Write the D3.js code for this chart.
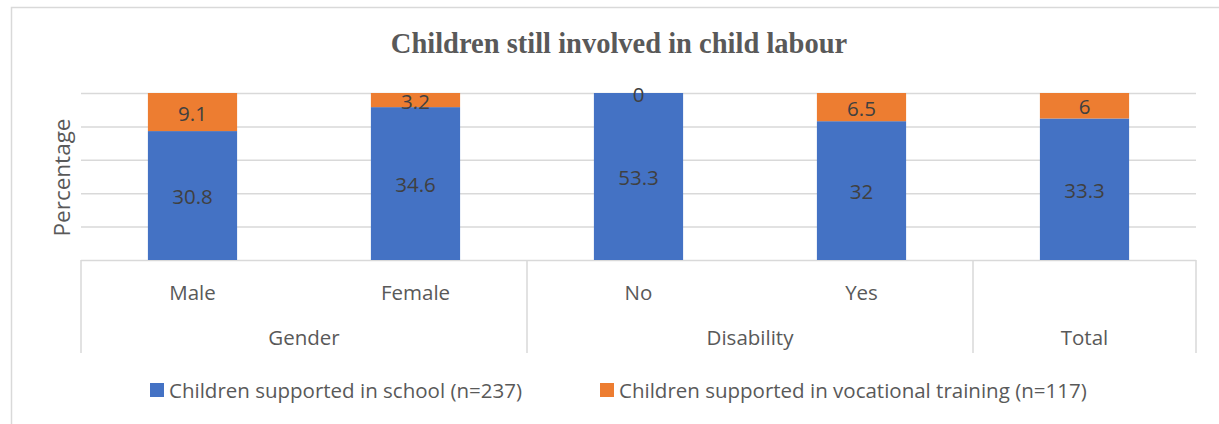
<!DOCTYPE html>
<html>
<head>
<meta charset="utf-8">
<script src="https://cdn.jsdelivr.net/npm/d3@7"></script>
<style>
  body { margin: 0; background: #fff; }
  text { font-family: "Open Sans", Lato, sans-serif; }
</style>
</head>
<body>
<div id="chart"></div>
<script>
const categories = ["Male", "Female", "No", "Yes", "Total"];
const groups = [
    { name: "Gender", members: ["Male", "Female"] },
    { name: "Disability", members: ["No", "Yes"] },
    { name: "Total", members: ["Total"] }
];
const seriesNames = ["Children supported in school (n=237)", "Children supported in vocational training (n=117)"];
const school = [30.8, 34.6, 53.3, 32, 33.3];
const vocational = [9.1, 3.2, 0, 6.5, 6];
const yTicks = [0, 0.2, 0.4, 0.6, 0.8, 1];

function drawChart(containerId) {
    const width = 1219,
        height = 424;
    const plot = { left: 81, right: 1196, top: 93, bottom: 260 };
    const colors = ["#4472C4", "#ED7D31"];
    const fontSize = "20.5px";

    d3.select(`#${containerId}`).selectAll("*").remove();

    const svg = d3.select(`#${containerId}`)
        .append("svg")
        .attr("width", width)
        .attr("height", height);

    // outer chart border
    svg.append("rect")
        .attr("x", 11.5).attr("y", 7.5)
        .attr("width", width).attr("height", height)
        .attr("fill", "none")
        .attr("stroke", "#d9d9d9")
        .attr("stroke-width", 1.5);

    svg.append("text")
        .attr("x", 619).attr("y", 53)
        .attr("text-anchor", "middle")
        .style("font-family", "'Liberation Serif', serif")
        .style("font-weight", "bold")
        .style("font-size", "28.5px")
        .attr("fill", "#595959")
        .text("Children still involved in child labour");

    const x = d3.scaleBand()
        .domain(categories)
        .range([plot.left, plot.right])
        .paddingInner(0.6)
        .paddingOuter(0.3);

    const y = d3.scaleLinear()
        .domain([0, 1])
        .range([plot.bottom, plot.top]);

    // gridlines
    svg.append("g")
        .attr("transform", `translate(${plot.left},0)`)
        .call(d3.axisLeft(y).tickValues(yTicks).tickSize(-(plot.right - plot.left)).tickFormat(""))
        .call(g => g.select(".domain").remove())
        .call(g => g.selectAll(".tick line").attr("stroke", "#d9d9d9").attr("stroke-width", 1.5));

    const rows = categories.map((c, i) => ({ cat: c, school: school[i], vocational: vocational[i] }));
    const stack = d3.stack()
        .keys(["school", "vocational"])
        .offset(d3.stackOffsetExpand);
    const series = stack(rows);

    const layer = svg.selectAll("g.series")
        .data(series)
        .join("g")
        .attr("class", "series")
        .attr("fill", (d, i) => colors[i]);

    layer.selectAll("rect")
        .data(d => d)
        .join("rect")
        .attr("x", d => x(d.data.cat))
        .attr("width", x.bandwidth())
        .attr("y", d => y(d[1]))
        .attr("height", d => y(d[0]) - y(d[1]));

    layer.selectAll("text")
        .data((d, i) => d.map(p => ({ p: p, key: series[i].key })))
        .join("text")
        .attr("x", d => x(d.p.data.cat) + x.bandwidth() / 2)
        .attr("y", d => y((d.p[0] + d.p[1]) / 2) + 1.5)
        .attr("dy", "0.35em")
        .attr("text-anchor", "middle")
        .attr("fill", "#404040")
        .style("font-size", fontSize)
        .text(d => d.p.data[d.key]);

    // multi-level category axis
    const step = x.step();
    const boundary = c => x(c) + x.bandwidth() / 2 - step / 2;
    const axisG = svg.append("g").attr("stroke", "#d9d9d9").attr("stroke-width", 1.5);
    const edges = groups.map(g => boundary(g.members[0])).concat([plot.right]);
    axisG.selectAll("line")
        .data(edges)
        .join("line")
        .attr("x1", d => d).attr("x2", d => d)
        .attr("y1", plot.bottom).attr("y2", 353);

    svg.selectAll("text.cat")
        .data(categories.filter(c => c !== "Total"))
        .join("text")
        .attr("class", "cat")
        .attr("x", d => x(d) + x.bandwidth() / 2)
        .attr("y", 293)
        .attr("dy", "0.35em")
        .attr("text-anchor", "middle")
        .attr("fill", "#595959")
        .style("font-size", fontSize)
        .text(d => d);

    svg.selectAll("text.group")
        .data(groups)
        .join("text")
        .attr("class", "group")
        .attr("x", g => (boundary(g.members[0]) + boundary(g.members[g.members.length - 1]) + step) / 2)
        .attr("y", 338)
        .attr("dy", "0.35em")
        .attr("text-anchor", "middle")
        .attr("fill", "#595959")
        .style("font-size", fontSize)
        .text(g => g.name);

    svg.append("text")
        .attr("transform", `translate(62,${(plot.top + plot.bottom) / 2 + 1}) rotate(-90)`)
        .attr("dy", "0.35em")
        .attr("text-anchor", "middle")
        .attr("fill", "#595959")
        .style("font-size", "22.5px")
        .text("Percentage");

    // legend
    const legendX = [150, 600];
    const legend = svg.selectAll("g.legend")
        .data(seriesNames)
        .join("g")
        .attr("class", "legend")
        .attr("transform", (d, i) => `translate(${legendX[i]},383)`);
    legend.append("rect")
        .attr("width", 14).attr("height", 14)
        .attr("fill", (d, i) => colors[i]);
    legend.append("text")
        .attr("x", 19).attr("y", 8)
        .attr("dy", "0.35em")
        .attr("fill", "#595959")
        .style("font-size", fontSize)
        .text(d => d);
}

drawChart("chart");
</script>
</body>
</html>
